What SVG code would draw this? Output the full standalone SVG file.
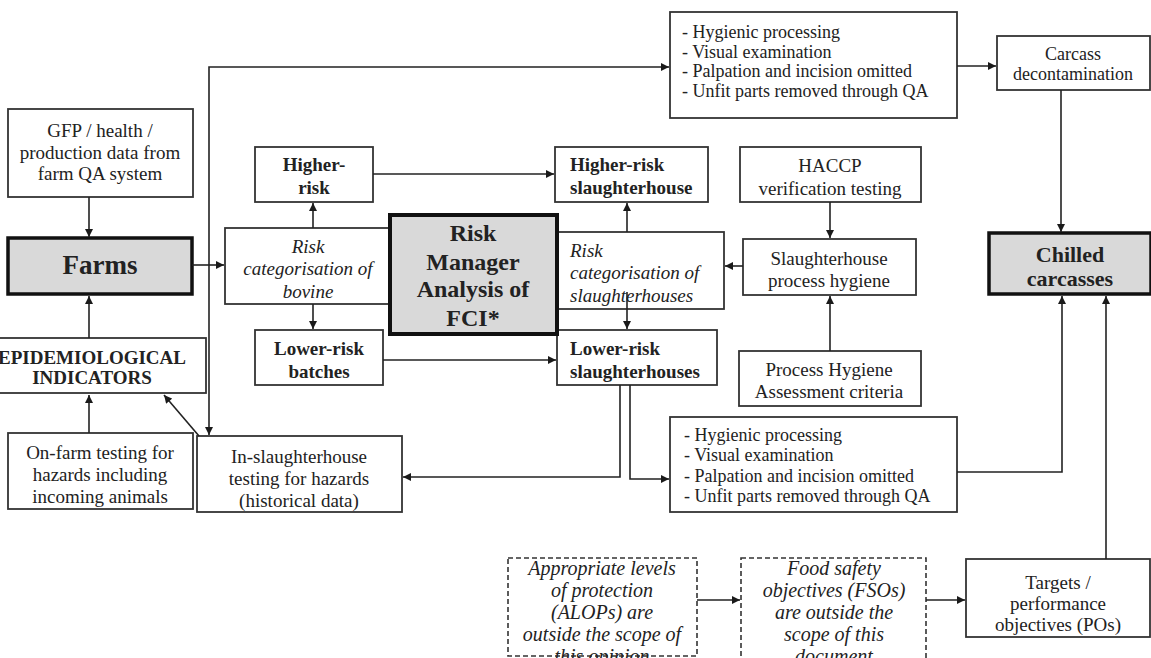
<svg xmlns="http://www.w3.org/2000/svg" width="1151" height="658" viewBox="0 0 1151 658">
<defs>
<marker id="ah" viewBox="0 0 10 10" refX="10" refY="5" markerUnits="userSpaceOnUse" markerWidth="9" markerHeight="8" orient="auto">
<path d="M0,0 L10,5 L0,10 z" fill="#1a1a1a"/>
</marker>
<style>
text{font-family:"Liberation Serif","Times New Roman",serif;fill:#222;font-size:19px}
.c{text-anchor:middle}
.b{font-weight:bold}
.i{font-style:italic}
.s18{font-size:18px}
.box{fill:#fff;stroke:#333;stroke-width:1.8}
.thick{fill:#d9d9d9;stroke:#111;stroke-width:3.5}
.dash{fill:#fff;stroke:#333;stroke-width:1.6;stroke-dasharray:5 3}
.ln{fill:none;stroke:#222;stroke-width:1.6}
</style>
</defs>
<rect width="1151" height="658" fill="#fff"/>

<g id="gfp">
<rect class="box" x="8" y="109" width="185" height="88"/>
<text class="c" x="100" y="137">GFP / health /</text>
<text class="c" x="100" y="159">production data from</text>
<text class="c" x="100" y="180">farm QA system</text>
</g>
<g id="farms">
<rect class="thick" x="8" y="238" width="184" height="56"/>
<text class="c b" x="100" y="274" style="font-size:27px">Farms</text>
</g>
<g id="epi">
<rect class="box" x="-5" y="338" width="211" height="55"/>
<text class="c b" x="92" y="364">EPIDEMIOLOGICAL</text>
<text class="c b" x="92" y="384">INDICATORS</text>
</g>
<g id="onfarm">
<rect class="box" x="8" y="433" width="185" height="76"/>
<text class="c" x="100" y="459">On-farm testing for</text>
<text class="c" x="100" y="481">hazards including</text>
<text class="c" x="100" y="503">incoming animals</text>
</g>
<g id="inslaughter">
<rect class="box" x="197" y="436" width="205" height="76"/>
<text class="c" x="299" y="463">In-slaughterhouse</text>
<text class="c" x="299" y="485">testing for hazards</text>
<text class="c" x="299" y="507">(historical data)</text>
</g>
<g id="higherrisk">
<rect class="box" x="255" y="147" width="118" height="55"/>
<text class="c b" x="314" y="171">Higher-</text>
<text class="c b" x="314" y="194">risk</text>
</g>
<g id="bovine">
<rect class="box" x="225" y="228" width="168" height="76"/>
<text class="c i" x="308" y="253">Risk</text>
<text class="c i" x="308" y="275">categorisation of</text>
<text class="c i" x="308" y="298">bovine</text>
</g>
<g id="lowerbatches">
<rect class="box" x="255" y="330" width="128" height="55"/>
<text class="c b" x="319" y="355">Lower-risk</text>
<text class="c b" x="319" y="378">batches</text>
</g>
<g id="higherslaughter">
<rect class="box" x="555" y="147" width="153" height="55"/>
<text class="b" x="570" y="171">Higher-risk</text>
<text class="b" x="570" y="194">slaughterhouse</text>
</g>
<g id="riskslaughter">
<rect class="box" x="557" y="232" width="167" height="77"/>
<text class="i" x="570" y="257">Risk</text>
<text class="i" x="570" y="279">categorisation of</text>
<text class="i" x="570" y="302">slaughterhouses</text>
</g>
<g id="lowerslaughter">
<rect class="box" x="557" y="330" width="160" height="55"/>
<text class="b" x="570" y="355">Lower-risk</text>
<text class="b" x="570" y="378">slaughterhouses</text>
</g>
<g id="riskmanager">
<rect x="390" y="215" width="167" height="119" fill="#d9d9d9" stroke="#111" stroke-width="4"/>
<text class="c b" x="473" y="241" style="font-size:24px">Risk</text>
<text class="c b" x="473" y="270" style="font-size:24px">Manager</text>
<text class="c b" x="473" y="297" style="font-size:24px">Analysis of</text>
<text class="c b" x="473" y="326" style="font-size:24px">FCI*</text>
</g>
<g id="hygtop">
<rect class="box" x="670" y="12" width="287" height="106"/>
<text class="s18" x="682" y="38">- Hygienic processing</text>
<text class="s18" x="682" y="58">- Visual examination</text>
<text class="s18" x="682" y="77">- Palpation and incision omitted</text>
<text class="s18" x="682" y="97">- Unfit parts removed through QA</text>
</g>
<g id="decon">
<rect class="box" x="997" y="36" width="153" height="54"/>
<text class="c s18" x="1073" y="60">Carcass</text>
<text class="c s18" x="1073" y="80">decontamination</text>
</g>
<g id="haccp">
<rect class="box" x="740" y="147" width="181" height="55"/>
<text class="c" x="830" y="172">HACCP</text>
<text class="c" x="830" y="195">verification testing</text>
</g>
<g id="processhyg">
<rect class="box" x="743" y="239" width="173" height="56"/>
<text class="c" x="829" y="265">Slaughterhouse</text>
<text class="c" x="829" y="287">process hygiene</text>
</g>
<g id="phac">
<rect class="box" x="739" y="351" width="182" height="55"/>
<text class="c" x="829" y="376">Process Hygiene</text>
<text class="c" x="829" y="398">Assessment criteria</text>
</g>
<g id="chilled">
<rect x="989" y="233" width="162" height="61" fill="#d9d9d9" stroke="#111" stroke-width="3.5"/>
<text class="c b" x="1070" y="262" style="font-size:22px">Chilled</text>
<text class="c b" x="1070" y="286" style="font-size:22px">carcasses</text>
</g>
<g id="hygbottom">
<rect class="box" x="670" y="417" width="287" height="95"/>
<text class="s18" x="684" y="441">- Hygienic processing</text>
<text class="s18" x="684" y="461">- Visual examination</text>
<text class="s18" x="684" y="482">- Palpation and incision omitted</text>
<text class="s18" x="684" y="502">- Unfit parts removed through QA</text>
</g>
<g id="alops">
<rect class="dash" x="508" y="558" width="189" height="98"/>
<text class="c i" x="602" y="575" style="font-size:20px">Appropriate levels</text>
<text class="c i" x="602" y="597" style="font-size:20px">of protection</text>
<text class="c i" x="602" y="619" style="font-size:20px">(ALOPs) are</text>
<text class="c i" x="602" y="641" style="font-size:20px">outside the scope of</text>
<text class="c i" x="602" y="663" style="font-size:20px">this opinion</text>
</g>
<g id="fsos">
<rect class="dash" x="741" y="558" width="185" height="120"/>
<text class="c i" x="834" y="575" style="font-size:20px">Food safety</text>
<text class="c i" x="834" y="597" style="font-size:20px">objectives (FSOs)</text>
<text class="c i" x="834" y="619" style="font-size:20px">are outside the</text>
<text class="c i" x="834" y="641" style="font-size:20px">scope of this</text>
<text class="c i" x="834" y="663" style="font-size:20px">document</text>
</g>
<g id="targets">
<rect class="box" x="966" y="559" width="184" height="78"/>
<text class="c" x="1058" y="589">Targets /</text>
<text class="c" x="1058" y="610">performance</text>
<text class="c" x="1058" y="631">objectives (POs)</text>
</g>

<g id="connectors">
<path class="ln" d="M89,197 V237" marker-end="url(#ah)"/>
<path class="ln" d="M89,338 V296" marker-end="url(#ah)"/>
<path class="ln" d="M89,433 V395" marker-end="url(#ah)"/>
<path class="ln" d="M199,436 L164,395" marker-end="url(#ah)"/>
<path class="ln" d="M192,265 H224" marker-end="url(#ah)"/>
<path class="ln" d="M209,265 V67 H669" marker-end="url(#ah)"/>
<path class="ln" d="M209,265 V435" marker-end="url(#ah)"/>
<path class="ln" d="M313,228 V203" marker-end="url(#ah)"/>
<path class="ln" d="M313,304 V329" marker-end="url(#ah)"/>
<path class="ln" d="M373,174 H554" marker-end="url(#ah)"/>
<path class="ln" d="M383,360 H556" marker-end="url(#ah)"/>
<path class="ln" d="M627,232 V203" marker-end="url(#ah)"/>
<path class="ln" d="M627,292 V329" marker-end="url(#ah)"/>
<path class="ln" d="M743,266 H725" marker-end="url(#ah)"/>
<path class="ln" d="M830,202 V238" marker-end="url(#ah)"/>
<path class="ln" d="M830,351 V296" marker-end="url(#ah)"/>
<path class="ln" d="M957,66 H996" marker-end="url(#ah)"/>
<path class="ln" d="M1061,90 V232" marker-end="url(#ah)"/>
<path class="ln" d="M620,385 V477 H403" marker-end="url(#ah)"/>
<path class="ln" d="M630,385 V479 H669" marker-end="url(#ah)"/>
<path class="ln" d="M957,472 H1062 V296" marker-end="url(#ah)"/>
<path class="ln" d="M1106,559 V296" marker-end="url(#ah)"/>
<path class="ln" d="M697,600 H740" marker-end="url(#ah)"/>
<path class="ln" d="M926,600 H965" marker-end="url(#ah)"/>
</g>
</svg>
